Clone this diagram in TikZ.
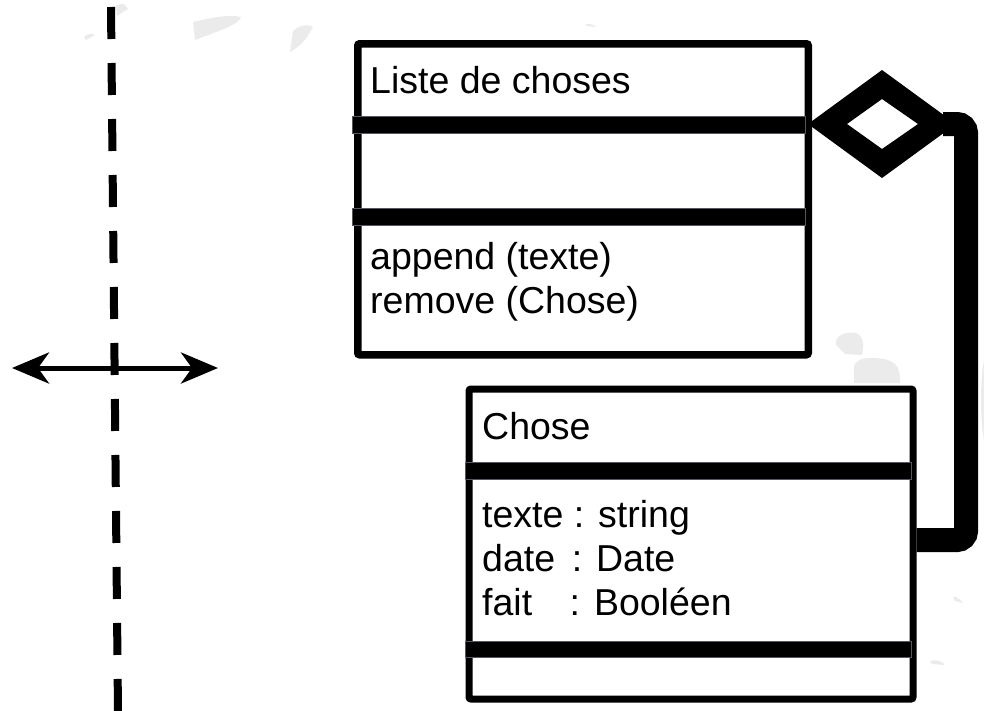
\documentclass[tikz,border=0pt]{standalone}
\usepackage{fontspec}
\setmainfont{Liberation Sans}
\usetikzlibrary{arrows.meta}

\definecolor{blobgray}{HTML}{EBEBEB}
\definecolor{baredge}{HTML}{55585E}

\tikzset{
  classbox/.style={draw=black, line width=7.5pt, rounded corners=2pt},
  sepbar/.style={fill=black, draw=baredge, line width=1pt},
  umltext/.style={anchor=base west, inner sep=0pt, font=\fontsize{37.5}{44}\selectfont},
  blob/.style={fill=blobgray, draw=none},
  aggline/.style={draw=black, line width=24pt, rounded corners=9pt},
  boundary/.style={draw=black, line width=8pt, dash pattern=on 32pt off 24pt},
  twoway/.style={draw=black, line width=5pt,
    {Stealth[length=37pt, width=31pt, inset=11pt]}-{Stealth[length=37pt, width=31pt, inset=11pt]}}
}

\begin{document}
\begin{tikzpicture}[x=1pt, y=-1pt]
\useasboundingbox (0,0) rectangle (984,710);

% faint background smudges
\fill[blob] (193,22) .. controls (210,18) and (228,14) .. (241,17) .. controls (238,24) and (230,27) .. (195,40) -- cycle;
\fill[blob] (293,31) .. controls (298,26) and (306,23) .. (313,27) .. controls (308,36) and (304,44) .. (290,52) -- cycle;
\fill[blob] (116,6) .. controls (120,3) and (126,3) .. (128,9) -- (117,16) -- cycle;
\fill[blob] (84,37) .. controls (88,33) and (93,33) .. (95,35) -- (86,40) -- cycle;
\fill[blob] (585,24) .. controls (590,23) and (594,25) .. (596,27) -- (587,26) -- cycle;
\fill[blob] (836,345) .. controls (834,336) and (845,331) .. (856,333) .. controls (864,336) and (864,346) .. (862,355) -- (845,354) -- cycle;
\fill[blob] (854,372) .. controls (852,362) and (860,357) .. (875,358) .. controls (895,359) and (901,366) .. (900,383) -- (854,383) -- cycle;
\fill[blob] (984,360) .. controls (980,380) and (980,420) .. (984,440) -- cycle;
\fill[blob] (953,597) .. controls (956,596) and (960,599) .. (963,603) -- (955,601) -- cycle;
\fill[blob] (930,661) .. controls (936,659) and (942,661) .. (945,665) -- (932,664) -- cycle;

% boundary with its two-way arrow
\coordinate (bndtop) at (111,7);
\coordinate (bndbot) at (118,712);
\draw[boundary] (bndtop) -- (bndbot);
\coordinate (arrl) at (12,368);
\coordinate (arrr) at (218,368);
\draw[twoway] (arrl) -- (arrr);

% class "Liste de choses"
\node[classbox, minimum width=450.5pt, minimum height=311pt, inner sep=0pt, anchor=north west] (liste) at (354,40) {};
\draw[sepbar] (352,116) rectangle (805,133);
\draw[sepbar] (352,208) rectangle (805,225);
\node[umltext] (listename) at (370,93) {Liste de choses};
\node[umltext] (listeop1) at (370,269) {append (texte)};
\node[umltext] (listeop2) at (370,313) {remove (Chose)};

% class "Chose"
\node[classbox, line width=7pt, minimum width=444pt, minimum height=310pt, inner sep=0pt, anchor=north west] (chose) at (465.5,385.5) {};
\draw[sepbar] (465,462) rectangle (911,479);
\draw[sepbar] (465,641) rectangle (911,657);
\node[umltext] (chosename) at (482,439) {Chose};
\node[umltext] (choseat1) at (482,527) {texte : string};
\node[umltext] (choseat2) at (482,571) {date \,: Date};
\node[umltext] (choseat3) at (482,615) {fait \ \ \,: Booléen};

% aggregation: hollow diamond on "Liste de choses"
\coordinate (dtip) at (808,124);
\fill[black, even odd rule]
  (dtip) -- (882,70) -- (956,124) -- (882,178) -- cycle
  (847,124) -- (882,99) -- (918,124) -- (882,149) -- cycle;
\coordinate (dback) at (943,124);
\coordinate (aggend) at (chose.east |- 0,540);
\draw[aggline] (dback) -- (966,124) -- (966,540) -- (aggend);
\end{tikzpicture}
\end{document}
